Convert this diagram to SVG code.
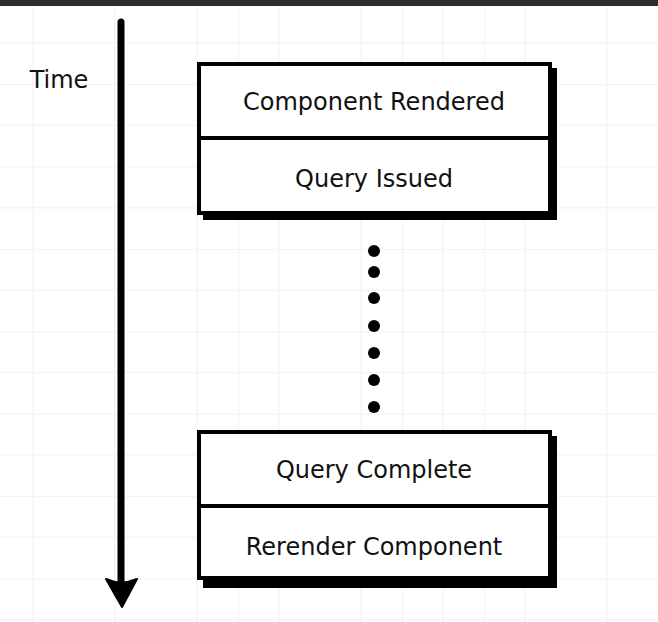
<svg xmlns="http://www.w3.org/2000/svg" width="658" height="622" viewBox="0 0 658 622">
<defs>
<style>
.minor{stroke:#f4f4f4;stroke-width:1.5}
.major{stroke:#eeeeee;stroke-width:1.5}
.box{fill:#fff;stroke:#000;stroke-width:4}
.shadow{fill:#000}
.div{stroke:#000;stroke-width:4}
.lbl{font-family:"DejaVu Sans",sans-serif;font-size:24px;fill:#111;text-anchor:middle}
.dot{fill:#000}
</style>
<pattern id="grid" x="-8" y="1.7" width="82" height="82.4" patternUnits="userSpaceOnUse">
<line class="minor" x1="0" y1="41.2" x2="82" y2="41.2"/>
<line class="minor" x1="41" y1="0" x2="41" y2="82.4"/>
<line class="major" x1="0" y1="0" x2="82" y2="0"/>
<line class="major" x1="0" y1="0" x2="0" y2="82.4"/>
</pattern>
</defs>
<rect width="658" height="622" fill="#fff"/>
<rect width="658" height="622" fill="url(#grid)"/>
<rect x="0" y="0" width="658" height="6" fill="#2e2e2e"/>

<g id="time-label">
<text x="59" y="88" class="lbl" style="font-size:24px">Time</text>
</g>

<g id="connectors">
<g id="time-axis">
<line x1="121" y1="22" x2="121" y2="585" stroke="#000" stroke-width="7" stroke-linecap="round"/>
<path d="M106,579 Q121,586 137,579 L122,607 Z" fill="#000" stroke="#000" stroke-width="2" stroke-linejoin="round"/>
</g>
<g id="ellipsis">
<circle class="dot" cx="374" cy="251" r="6"/>
<circle class="dot" cx="374" cy="272" r="6"/>
<circle class="dot" cx="374" cy="298" r="6"/>
<circle class="dot" cx="374" cy="326" r="6"/>
<circle class="dot" cx="374" cy="353" r="6"/>
<circle class="dot" cx="374" cy="380" r="6"/>
<circle class="dot" cx="374" cy="407" r="6"/>
</g>
</g>

<g id="box-top">
<rect class="shadow" x="203" y="68" width="354" height="152"/>
<rect class="box" x="199" y="64" width="351" height="149"/>
<line class="div" x1="199" y1="138" x2="550" y2="138"/>
<g id="component-rendered"><text class="lbl" x="374" y="110">Component Rendered</text></g>
<g id="query-issued"><text class="lbl" x="374" y="187">Query Issued</text></g>
</g>

<g id="box-bottom">
<rect class="shadow" x="203" y="436" width="354" height="152"/>
<rect class="box" x="199" y="432" width="351" height="146"/>
<line class="div" x1="199" y1="506" x2="550" y2="506"/>
<g id="query-complete"><text class="lbl" x="374" y="478">Query Complete</text></g>
<g id="rerender-component"><text class="lbl" x="374" y="555">Rerender Component</text></g>
</g>
</svg>
